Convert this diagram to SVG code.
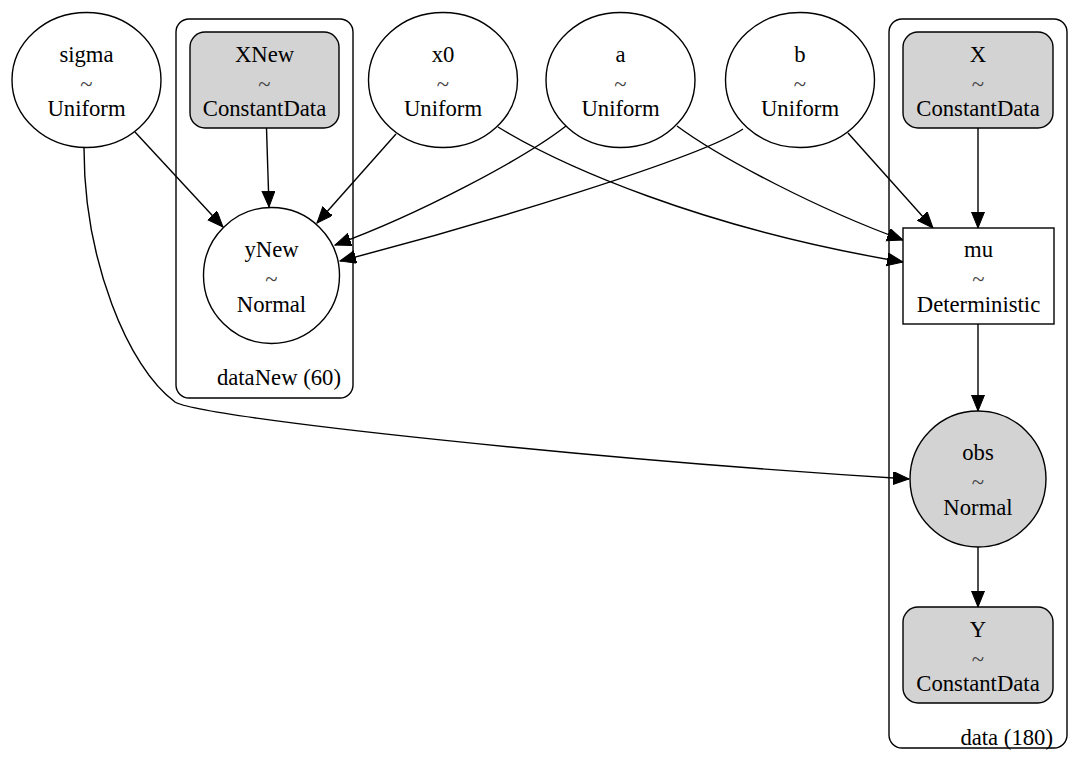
<svg xmlns="http://www.w3.org/2000/svg" width="1079" height="769" viewBox="0 0 1079 769">
<style>
.n{fill:#fff;stroke:#000;stroke-width:1.4}
.g{fill:#d3d3d3;stroke:#000;stroke-width:1.4}
.c{fill:none;stroke:#000;stroke-width:1.4}
.e{fill:none;stroke:#000;stroke-width:1.4;marker-end:url(#ah)}
text{font-family:"Liberation Serif","Times New Roman",serif;font-size:22.7px;fill:#000}
.m{text-anchor:middle}
.r{text-anchor:end}
.t{fill:#444}
</style>
<defs>
<marker id="ah" markerUnits="userSpaceOnUse" markerWidth="18" markerHeight="14" refX="16" refY="6.5" orient="auto">
<path d="M0,0 L16,6.5 L0,13 z" fill="#000" stroke="#000" stroke-width="1"/>
</marker>
</defs>
<rect width="1079" height="769" fill="#fff"/>
<g id="cluster_dataNew">
<rect class="c" x="176" y="19" width="177" height="379" rx="13"/>
<text class="r" x="341" y="385">dataNew (60)</text>
</g>
<g id="cluster_data">
<rect class="c" x="889" y="19" width="178" height="729" rx="13"/>
<text class="r" x="1053" y="745">data (180)</text>
</g>
<g id="edges">
<path class="e" d="M135,132 L223,227"/>
<path class="e" d="M266.5,128 L269,207"/>
<path class="e" d="M396,134 L317,223"/>
<path class="e" d="M566,126 C525,158 420,214 335,245"/>
<path class="e" d="M743,129 C700,158 480,225 340,261"/>
<path class="e" d="M498,127 C560,165 700,228 903,262"/>
<path class="e" d="M677,126 C720,158 820,210 903,240"/>
<path class="e" d="M848,133 L933,228"/>
<path class="e" d="M978,128 L978,228"/>
<path class="e" d="M978,324 L978,411"/>
<path class="e" d="M978,547 L978,607"/>
<path class="e" d="M84,148 C84,260 128,368 175,402 C200,418 600,460 909,479"/>
</g>
<g id="sigma">
<ellipse class="n" cx="86.5" cy="80" rx="74.5" ry="67.5"/>
<text class="m" x="86.5" y="61.5">sigma</text>
<text class="m t" x="86.5" y="91.5">~</text>
<text class="m" x="86.5" y="115.5">Uniform</text>
</g>
<g id="XNew">
<rect class="g" x="190" y="32" width="149" height="96" rx="15"/>
<text class="m" x="264.5" y="61.5">XNew</text>
<text class="m t" x="264.5" y="91.5">~</text>
<text class="m" x="264.5" y="115.5">ConstantData</text>
</g>
<g id="x0">
<ellipse class="n" cx="443" cy="80" rx="74.5" ry="67.5"/>
<text class="m" x="443" y="61.5">x0</text>
<text class="m t" x="443" y="91.5">~</text>
<text class="m" x="443" y="115.5">Uniform</text>
</g>
<g id="a">
<ellipse class="n" cx="620.5" cy="80" rx="74.5" ry="67.5"/>
<text class="m" x="620.5" y="61.5">a</text>
<text class="m t" x="620.5" y="91.5">~</text>
<text class="m" x="620.5" y="115.5">Uniform</text>
</g>
<g id="b">
<ellipse class="n" cx="800" cy="80" rx="74.5" ry="67.5"/>
<text class="m" x="800" y="61.5">b</text>
<text class="m t" x="800" y="91.5">~</text>
<text class="m" x="800" y="115.5">Uniform</text>
</g>
<g id="X">
<rect class="g" x="903" y="32" width="150" height="96" rx="15"/>
<text class="m" x="978" y="61.5">X</text>
<text class="m t" x="978" y="91.5">~</text>
<text class="m" x="978" y="115.5">ConstantData</text>
</g>
<g id="yNew">
<circle class="n" cx="271.5" cy="275.5" r="68"/>
<text class="m" x="271.5" y="257">yNew</text>
<text class="m t" x="271.5" y="287">~</text>
<text class="m" x="271.5" y="311.5">Normal</text>
</g>
<g id="mu">
<rect class="n" x="903" y="228" width="151" height="96"/>
<text class="m" x="978.5" y="257">mu</text>
<text class="m t" x="978.5" y="287">~</text>
<text class="m" x="978.5" y="311.5">Deterministic</text>
</g>
<g id="obs">
<circle class="g" cx="978" cy="479" r="68"/>
<text class="m" x="978" y="460">obs</text>
<text class="m t" x="978" y="490">~</text>
<text class="m" x="978" y="514.5">Normal</text>
</g>
<g id="Y">
<rect class="g" x="903" y="607" width="150" height="96" rx="15"/>
<text class="m" x="978" y="637">Y</text>
<text class="m t" x="978" y="666.5">~</text>
<text class="m" x="978" y="690.5">ConstantData</text>
</g>
</svg>
